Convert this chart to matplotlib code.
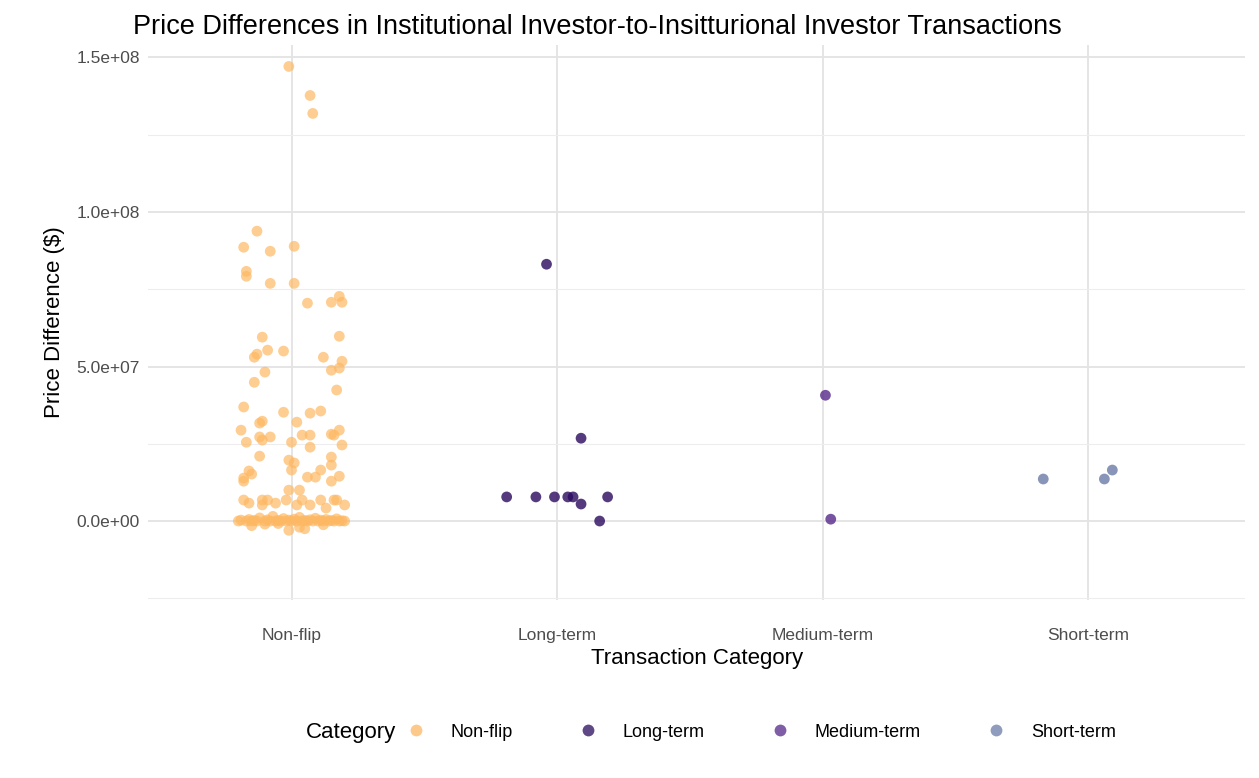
import matplotlib
matplotlib.use('Agg')
import matplotlib.pyplot as plt
from matplotlib.lines import Line2D

categories = ['Non-flip', 'Long-term', 'Medium-term', 'Short-term']
colors = ['#FDB863', '#2A0A5E', '#55288A', '#6A7BA8']

# Non-flip: jitter offset, price difference ($ millions)
nonflip_jit = [-0.01, 0.07, 0.08, -0.13, -0.18, 0.01, -0.08, -0.17, -0.17, 0.01, -0.08, 0.18, 0.06,
               0.19, 0.15, 0.18, -0.11, -0.13, -0.09, -0.03, -0.14, 0.12, 0.19, 0.15, 0.18, -0.10,
               -0.14, 0.17, -0.18, -0.03, 0.11, 0.07, 0.02, -0.11, -0.12, -0.19, 0.18, 0.15, 0.04,
               0.16, 0.07, -0.12, -0.08, -0.17, -0.11, 0.19, 0.00, 0.07, -0.12, 0.15, -0.01, 0.01,
               0.11, 0.00, 0.15, -0.16, 0.18, 0.06, 0.09, -0.18, -0.18, 0.15, -0.15, -0.01, 0.03,
               -0.18, -0.11, -0.09, -0.02, 0.04, 0.11, 0.17, 0.20, -0.16, -0.11, -0.06, 0.02, 0.07,
               0.13, 0.16,
               -0.20, -0.19, -0.17, -0.16, -0.15, -0.14, -0.13, -0.12, -0.10, -0.09, -0.08, -0.07,
               -0.06, -0.05, -0.04, -0.03, -0.02, -0.01, 0.00, 0.01, 0.02, 0.03, 0.04, 0.05, 0.06,
               0.07, 0.08, 0.09, 0.10, 0.11, 0.12, 0.13, 0.14, 0.15, 0.16, 0.17, 0.18, 0.19, 0.20,
               -0.15, -0.05, 0.05, 0.12, -0.1, -0.01, 0.03]
nonflip_val = [147.1, 137.7, 131.9, 93.8, 88.6, 88.9, 87.3, 80.8, 79.2, 76.9, 76.9, 72.7, 70.5,
               70.8, 70.8, 59.8, 59.5, 54.0, 55.3, 55.0, 53.0, 53.0, 51.7, 48.8, 49.5, 48.2,
               44.9, 42.4, 36.9, 35.2, 35.6, 34.9, 32.0, 32.3, 31.7, 29.4, 29.4, 28.1, 27.8,
               27.8, 27.8, 27.2, 27.2, 25.5, 26.2, 24.6, 25.5, 23.9, 21.0, 20.7, 19.7, 18.8,
               16.5, 16.5, 18.1, 16.2, 14.5, 14.2, 14.2, 13.9, 12.9, 12.9, 15.2, 10.0, 10.0,
               6.8, 6.8, 6.8, 6.8, 6.8, 6.8, 6.8, 5.2, 5.8, 5.2, 5.8, 5.2, 5.2, 4.2, 6.8,
               0.0, 0.3, 0.0, 0.5, 0.0, 0.2, 0.0, 1.0, 0.0, 0.4, 0.0, 1.5, 0.0, 0.2, 0.0, 0.8,
               0.0, 0.3, 0.0, 0.6, 0.0, 1.2, 0.0, 0.2, 0.0, 0.4, 0.0, 0.9, 0.0, 0.3, 0.0, 0.5,
               0.0, 0.2, 0.0, 0.7, 0.0, 0.1, 0.0,
               -1.5, -0.8, -2.5, -1.2, -1.0, -3.0, -2.0]

long_jit = [-0.19, -0.08, -0.01, 0.04, 0.06, 0.19, -0.04, 0.09, 0.09, 0.16]
long_val = [7.8, 7.8, 7.8, 7.8, 7.8, 7.8, 83.1, 26.8, 5.5, 0.0]
medium_jit = [0.01, 0.03]
medium_val = [40.7, 0.6]
short_jit = [-0.17, 0.06, 0.09]
short_val = [13.6, 13.6, 16.5]

groups = [(nonflip_jit, nonflip_val), (long_jit, long_val), (medium_jit, medium_val), (short_jit, short_val)]

plt.rcParams['font.family'] = ['Liberation Sans', 'DejaVu Sans']
fig = plt.figure(figsize=(12.59, 7.78), dpi=100)
ax = fig.add_axes([0.1176, 0.229, 0.8714, 0.713])

for i, (jit, val) in enumerate(groups):
    ax.scatter([i + j for j in jit], [v * 1e6 for v in val], s=60, color=colors[i],
               alpha=0.7 if i == 0 else 0.8, edgecolors='none', zorder=3)

ax.set_xlim(-0.54, 3.59)
ax.set_ylim(-2.55e7, 1.54e8)
ax.set_xticks(range(4))
ax.set_xticklabels(categories)
ax.set_yticks([0, 5e7, 1e8, 1.5e8])
ax.set_yticklabels(['0.0e+00', '5.0e+07', '1.0e+08', '1.5e+08'])
ax.set_yticks([-2.5e7, 2.5e7, 7.5e7, 1.25e8], minor=True)
ax.grid(True, which='major', color='#E3E3E3', lw=1.3, zorder=0)
ax.grid(True, which='minor', axis='y', color='#EDEDED', lw=0.8, zorder=0)
for s in ax.spines.values():
    s.set_visible(False)
ax.tick_params(length=0, labelsize=12.5, colors='#4D4D4D')
ax.tick_params(axis='x', pad=20)
ax.tick_params(axis='y', pad=6)
ax.tick_params(which='minor', length=0)

ax.set_xlabel('Transaction Category', fontsize=16, labelpad=4)
ax.set_ylabel('Price Difference ($)', fontsize=16, labelpad=8)
fig.text(0.106, 0.965, 'Price Differences in Institutional Investor-to-Insitturional Investor Transactions',
         fontsize=19.5, va='center', ha='left')

handles = [Line2D([], [], marker='o', ls='', color=c, alpha=0.75, markersize=8.5, markeredgewidth=0)
           for c in colors]
fig.legend(handles, categories, loc='center', bbox_to_anchor=(0.601, 0.059),
           ncol=4, frameon=False, fontsize=13, handletextpad=0.9, columnspacing=3.2)
fig.text(0.243, 0.059, 'Category', fontsize=16, va='center', ha='left')

fig.savefig('out.png', dpi=100)
